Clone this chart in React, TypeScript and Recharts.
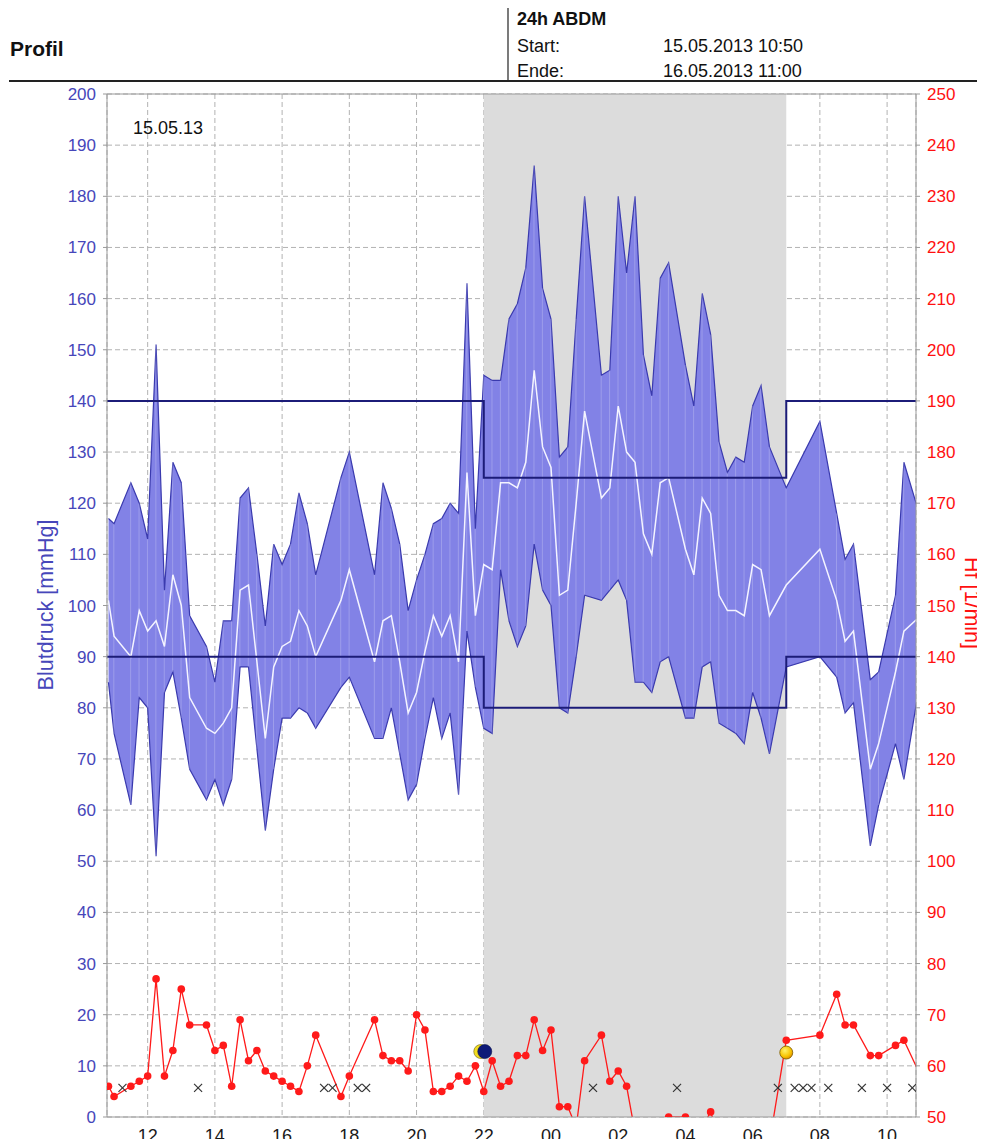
import React from 'react';
import {
  Area,
  Bar,
  CartesianGrid,
  ComposedChart,
  Line,
  ReferenceArea,
  ReferenceLine,
  Scatter,
  XAxis,
  YAxis,
} from 'recharts';

// measurement times in hours since 15.05. 00:00 (so 24.5 = 00:30 next day)
const times = [
  10.833, 11.0, 11.5, 11.75, 12.0, 12.25, 12.5, 12.75, 13.0, 13.25, 13.75, 14.0, 14.25, 14.5,
  14.75, 15.0, 15.25, 15.5, 15.75, 16.0, 16.25, 16.5, 16.75, 17.0, 17.75, 18.0, 18.75, 19.0,
  19.25, 19.5, 19.75, 20.0, 20.25, 20.5, 20.75, 21.0, 21.25, 21.5, 21.75, 22.0, 22.25, 22.5,
  22.75, 23.0, 23.25, 23.5, 23.75, 24.0, 24.25, 24.5, 24.75, 25.0, 25.5, 25.75, 26.0, 26.25,
  26.5, 26.75, 27.0, 27.25, 27.5, 28.0, 28.25, 28.5, 28.75, 29.0, 29.25, 29.5, 29.75, 30.0,
  30.25, 30.5, 31.0, 32.0, 32.5, 32.75, 33.0, 33.5, 33.75, 34.25, 34.5, 35.0,
];
const systolic = [
  117, 116, 124, 120, 113, 151, 103, 128, 124, 98, 92, 85, 97, 97,
  121, 123, 110, 96, 112, 108, 112, 122, 116, 106, 125, 130, 106, 124,
  119, 112, 99, 105, 110, 116, 117, 120, 118, 163, 115, 145, 144, 144,
  156, 159, 166, 186, 162, 156, 129, 131, 156, 180, 145, 146, 180, 165,
  180, 149, 141, 164, 167, 147, 139, 161, 153, 132, 126, 129, 128, 139,
  143, 131, 123, 136, 118, 109, 112, 85.5, 87, 102, 128, 117,
];
const diastolic = [
  85, 75, 61, 82, 80, 51, 83, 87, 78, 68, 62, 66, 61, 66,
  88, 88, 72, 56, 68, 78, 78, 80, 79, 76, 84, 86, 74, 74,
  80, 71, 62, 65, 74, 82, 74, 79, 63, 95, 84, 76, 75, 107,
  97, 92, 96, 112, 103, 100, 80, 79, 90, 102, 101, 103, 105, 101,
  85, 85, 83, 89, 90, 78, 78, 88, 89, 77, 76, 75, 73, 83,
  78, 71, 88, 90, 86, 79, 81, 53, 61, 73, 66, 86,
];
const meanArterial = [
  101, 94, 90, 99, 95, 97, 92, 106, 100, 82, 76, 75, 77, 80,
  103, 104, 89, 74, 88, 92, 93, 99, 96, 90, 101, 107, 89, 97,
  98, 89, 79, 83, 91, 98, 94, 98, 89, 126, 98, 108, 107, 124,
  124, 123, 128, 146, 131, 127, 102, 103, 120, 138, 121, 123, 139, 130,
  128, 114, 110, 124, 125, 111, 106, 121, 118, 102, 99, 99, 98, 108,
  107, 98, 104, 111, 101, 93, 95, 68, 73, 87, 95, 98,
];
const heartRate = [
  56, 54, 56, 57, 58, 77, 58, 63, 75, 68, 68, 63, 64, 56,
  69, 61, 63, 59, 58, 57, 56, 55, 60, 66, 54, 58, 69, 62,
  61, 61, 59, 70, 67, 55, 55, 56, 58, 57, 60, 55, 61, 56,
  57, 62, 62, 69, 63, 67, 52, 52, 48, 61, 66, 57, 59, 56,
  47, 45, 44, 46, 50, 50, 47, 48, 51, 46, 45, 47, 44, 46,
  45, 45, 65, 66, 74, 68, 68, 62, 62, 64, 65, 58,
];
// measurements without result (marked with x)
const failedTimes = [
  11.25, 13.5, 17.25, 17.5, 18.25, 18.5, 25.25, 27.75, 30.75, 31.25, 31.5, 31.75, 32.25,
  33.25, 34.0, 34.75,
];
// target limits day / night
const limitTimes = [10.79, 22, 31, 34.86];
const sysLimits = [140, 125, 140, 140];
const diaLimits = [90, 80, 90, 90];

const xTicks = [12, 14, 16, 18, 20, 22, 24, 26, 28, 30, 32, 34];
const bpTicks = [0, 10, 20, 30, 40, 50, 60, 70, 80, 90, 100, 110, 120, 130, 140, 150, 160, 170, 180, 190, 200];
const hrTicks = [50, 60, 70, 80, 90, 100, 110, 120, 130, 140, 150, 160, 170, 180, 190, 200, 210, 220, 230, 240, 250];

const rows = times.map((t, i) => ({
  t,
  bp: [diastolic[i], systolic[i]],
  map: meanArterial[i],
  hr: heartRate[i],
}));
const sysLimitRows = limitTimes.map((t, i) => ({ t, v: sysLimits[i] }));
const diaLimitRows = limitTimes.map((t, i) => ({ t, v: diaLimits[i] }));
const failedRows = failedTimes.map(t => ({ t, y: 5.7 }));
const moonRows = [{ t: 22, y: 12.8 }];
const sunRows = [{ t: 31, y: 12.6 }];

const FONT = '"Liberation Sans", Arial, Helvetica, sans-serif';
const BLUE_TXT = '#4646ba';

function CrossMark(props: any) {
  const { cx, cy } = props;
  if (cx == null || cy == null) return null;
  const s = 4;
  return (
    <g stroke="#333" strokeWidth={1.2}>
      <line x1={cx - s} y1={cy - s} x2={cx + s} y2={cy + s} />
      <line x1={cx - s} y1={cy + s} x2={cx + s} y2={cy - s} />
    </g>
  );
}

function MoonMark(props: any) {
  const { cx, cy } = props;
  if (cx == null || cy == null) return null;
  return (
    <g>
      <circle cx={cx - 3} cy={cy} r={7} fill="#f2dc20" stroke="#6b6210" strokeWidth={0.6} />
      <circle cx={cx + 1} cy={cy} r={7} fill="#0e1a78" stroke="#08104a" strokeWidth={0.6} />
    </g>
  );
}

function SunMark(props: any) {
  const { cx, cy } = props;
  if (cx == null || cy == null) return null;
  return <circle cx={cx} cy={cy} r={6.5} fill="url(#sunGrad)" stroke="#7a5a00" strokeWidth={0.8} />;
}

const hourLabel = (v: number) => String(Math.round(v) % 24).padStart(2, '0');

export default function App() {
  return (
    <div style={{ position: 'relative', width: 985, height: 1147, margin: -8, fontFamily: FONT }}>
      <ComposedChart
        width={985}
        height={1147}
        data={rows}
        margin={{ top: 94, right: 9, bottom: 0, left: 37 }}
      >
        <defs>
          <radialGradient id="sunGrad" cx="40%" cy="35%" r="65%">
            <stop offset="0%" stopColor="#fff36a" />
            <stop offset="70%" stopColor="#f7c400" />
            <stop offset="100%" stopColor="#e09000" />
          </radialGradient>
        </defs>
        <ReferenceArea yAxisId="left" x1={22} x2={31} y1={0} y2={200} fill="#dcdcdc" fillOpacity={1} stroke="none" />
        <CartesianGrid yAxisId="left" stroke="#b2b2b2" strokeDasharray="5 3" />
        <XAxis
          dataKey="t"
          type="number"
          domain={[10.79, 34.86]}
          allowDataOverflow
          ticks={xTicks}
          tickFormatter={hourLabel}
          height={30}
          tickLine={false}
          tickSize={0}
          tickMargin={12}
          axisLine={{ stroke: '#999' }}
          tick={{ fontSize: 18, fill: '#1a1a1a', fontFamily: FONT }}
        />
        <YAxis
          yAxisId="left"
          domain={[0, 200]}
          ticks={bpTicks}
          width={70}
          tickSize={4}
          tickMargin={7}
          axisLine={{ stroke: '#999' }}
          tickLine={{ stroke: '#999' }}
          tick={{ fontSize: 17, fill: BLUE_TXT, fontFamily: FONT }}
        />
        <YAxis
          yAxisId="right"
          orientation="right"
          domain={[50, 250]}
          allowDataOverflow
          ticks={hrTicks}
          width={60}
          tickSize={4}
          tickMargin={7}
          axisLine={{ stroke: '#999' }}
          tickLine={{ stroke: '#999' }}
          tick={{ fontSize: 17, fill: '#ff1010', fontFamily: FONT }}
        />
        <ReferenceLine yAxisId="left" y={200} stroke="#999" />
        <Area
          yAxisId="left"
          dataKey="bp"
          type="linear"
          fill="#8282e6"
          fillOpacity={1}
          stroke="#3a3aae"
          strokeWidth={1.2}
          isAnimationActive={false}
        />
        <Bar yAxisId="left" dataKey="bp" barSize={1} fill="#ffffff" fillOpacity={0.22} isAnimationActive={false} />
        <Line
          yAxisId="left"
          dataKey="map"
          type="linear"
          stroke="#f4f4ff"
          strokeWidth={1.5}
          dot={false}
          isAnimationActive={false}
        />
        <Line
          yAxisId="left"
          data={sysLimitRows}
          dataKey="v"
          type="stepAfter"
          stroke="#1c1c78"
          strokeWidth={2}
          dot={false}
          isAnimationActive={false}
        />
        <Line
          yAxisId="left"
          data={diaLimitRows}
          dataKey="v"
          type="stepAfter"
          stroke="#1c1c78"
          strokeWidth={2}
          dot={false}
          isAnimationActive={false}
        />
        <Line
          yAxisId="right"
          dataKey="hr"
          type="linear"
          stroke="#ff1a1a"
          strokeWidth={1.3}
          dot={{ r: 3.8, fill: '#ff1a1a', stroke: 'none' }}
          isAnimationActive={false}
        />
        <Scatter yAxisId="left" data={failedRows} dataKey="y" shape={<CrossMark />} isAnimationActive={false} />
        <Scatter yAxisId="left" data={moonRows} dataKey="y" shape={<MoonMark />} isAnimationActive={false} />
        <Scatter yAxisId="left" data={sunRows} dataKey="y" shape={<SunMark />} isAnimationActive={false} />
      </ComposedChart>

      <svg
        width={985}
        height={1147}
        style={{ position: 'absolute', left: 0, top: 0, pointerEvents: 'none', fontFamily: FONT }}
      >
        <line x1={9} y1={81} x2={985} y2={81} stroke="#222" strokeWidth={2} />
        <line x1={508} y1={7} x2={508} y2={80} stroke="#222" strokeWidth={1.2} />
        <text x={10} y={56} fontSize={21} fontWeight="bold" fill="#111">Profil</text>
        <text x={517} y={25} fontSize={18} fontWeight="bold" fill="#111">24h ABDM</text>
        <text x={517} y={52} fontSize={18} fill="#111">Start:</text>
        <text x={663} y={52} fontSize={18} fill="#111">15.05.2013 10:50</text>
        <text x={517} y={77} fontSize={18} fill="#111">Ende:</text>
        <text x={663} y={77} fontSize={18} fill="#111">16.05.2013 11:00</text>
        <text x={133} y={134} fontSize={18} fill="#111">15.05.13</text>
        <text
          x={46}
          y={605}
          fontSize={21.5}
          fill={BLUE_TXT}
          textAnchor="middle"
          dominantBaseline="central"
          transform="rotate(-90 46 605)"
        >
          Blutdruck [mmHg]
        </text>
        <text
          x={972}
          y={603}
          fontSize={21.5}
          fill="#ff1010"
          textAnchor="middle"
          dominantBaseline="central"
          transform="rotate(90 972 603)"
        >
          Hf [1/min]
        </text>
      </svg>
    </div>
  );
}
